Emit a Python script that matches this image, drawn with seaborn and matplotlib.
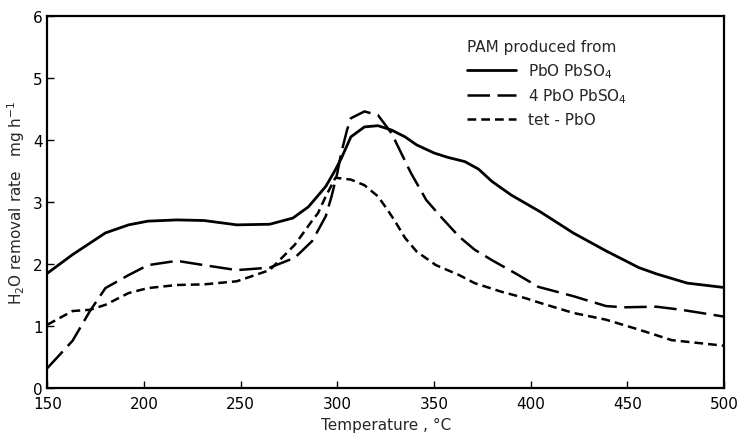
import numpy as np
import pandas as pd
import matplotlib
matplotlib.use("Agg")
import matplotlib.pyplot as plt
import seaborn as sns

# PbO PbSO4 (solid)
t_pbo_pbso4 = [150, 163, 180, 192, 202, 217, 231, 248, 265, 277, 285, 294, 299, 302, 307, 314,
               321, 328, 335, 341, 350, 357, 366, 373, 380, 390, 405, 422, 439, 456, 465, 481, 500]
r_pbo_pbso4 = [1.85, 2.15, 2.50, 2.63, 2.69, 2.71, 2.70, 2.63, 2.64, 2.74, 2.92, 3.25, 3.52, 3.70, 4.05, 4.21,
               4.23, 4.16, 4.05, 3.92, 3.79, 3.72, 3.65, 3.53, 3.33, 3.11, 2.84, 2.50, 2.21, 1.94, 1.84, 1.69, 1.62]

# 4PbO PbSO4 (long dash)
t_4pbo = [150, 163, 172, 180, 192, 202, 217, 231, 248, 265, 278, 287, 294, 297, 300, 302, 305, 307,
          314, 321, 328, 333, 338, 346, 355, 363, 371, 380, 392, 404, 422, 439, 448, 465, 478, 500]
r_4pbo = [0.32, 0.76, 1.24, 1.61, 1.82, 1.98, 2.05, 1.98, 1.90, 1.94, 2.10, 2.37, 2.77, 3.09, 3.47, 3.79, 4.16, 4.35,
          4.46, 4.40, 4.11, 3.79, 3.47, 3.03, 2.71, 2.44, 2.23, 2.06, 1.85, 1.63, 1.48, 1.32, 1.30, 1.31, 1.26, 1.15]

# tet-PbO (short dash)
t_tet = [150, 163, 172, 180, 192, 202, 217, 231, 248, 265, 278, 287, 290, 294, 299, 307, 314, 321,
         326, 330, 335, 341, 351, 363, 371, 385, 397, 405, 422, 439, 456, 473, 500]
r_tet = [1.02, 1.24, 1.26, 1.34, 1.53, 1.61, 1.66, 1.67, 1.72, 1.90, 2.31, 2.70, 2.82, 3.09, 3.39, 3.36, 3.27, 3.09,
         2.87, 2.68, 2.42, 2.20, 1.98, 1.82, 1.69, 1.55, 1.45, 1.37, 1.21, 1.10, 0.94, 0.77, 0.68]

labels = ["PbO PbSO$_4$", "4 PbO PbSO$_4$", "tet - PbO"]
x_ticks = [150, 200, 250, 300, 350, 400, 450, 500]
y_ticks = [0, 1, 2, 3, 4, 5, 6]

sns.set_style("ticks")
plt.rcParams["font.family"] = ["DejaVu Sans"]

fig = plt.figure(figsize=(7.41, 4.35), dpi=100)
ax = fig.add_axes([0.064, 0.106, 0.913, 0.855])

sns.lineplot(x=t_pbo_pbso4, y=r_pbo_pbso4, ax=ax, color="black", lw=2.0, label=labels[0])
sns.lineplot(x=t_4pbo, y=r_4pbo, ax=ax, color="black", lw=1.8, label=labels[1])
sns.lineplot(x=t_tet, y=r_tet, ax=ax, color="black", lw=1.8, label=labels[2])
ax.lines[1].set_dashes((9, 3))
ax.lines[2].set_dashes((3.5, 2))
for ln in ax.lines:
    ln.set_solid_joinstyle("round")
    ln.set_dash_joinstyle("round")

ax.set_xlim(150, 500)
ax.set_ylim(0, 6)
ax.set_xticks(x_ticks)
ax.set_yticks(y_ticks)
ax.tick_params(direction="in", length=5, width=1, labelsize=11, colors="black")
ax.tick_params(axis="x", pad=6)
for s in ax.spines.values():
    s.set_linewidth(1.6)
    s.set_color("black")

ax.set_xlabel("Temperature , °C", fontsize=11)
ax.set_ylabel("H$_2$O removal rate   mg h$^{-1}$", fontsize=11)

leg = ax.legend(title="PAM produced from", loc="upper left", bbox_to_anchor=(0.6, 0.975),
                frameon=False, fontsize=11, title_fontsize=11, alignment="left",
                handlelength=3.2, labelspacing=0.45)
for h in leg.get_lines():
    h.set_color("black")

fig.savefig("out.png", dpi=100)
